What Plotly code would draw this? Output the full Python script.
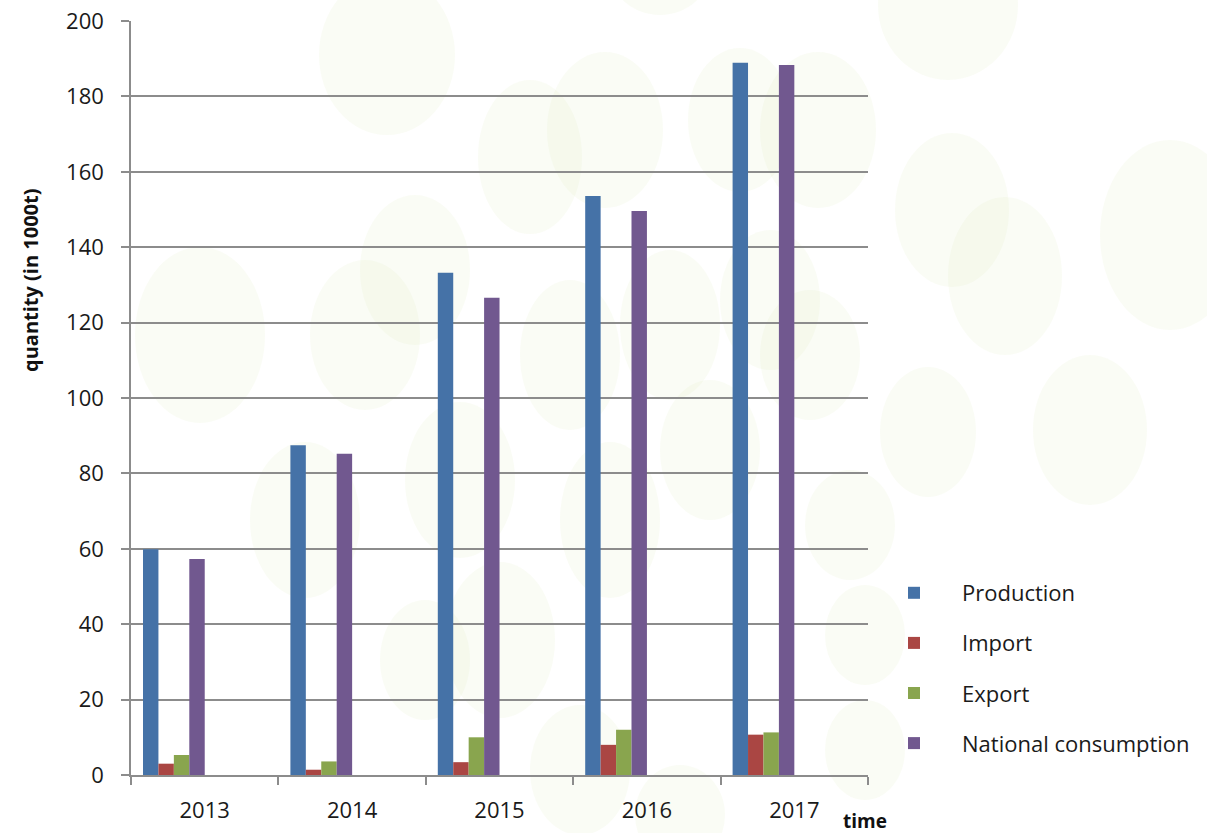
import plotly.graph_objects as go

# Quantities in 1000 t per year
years = ["2013", "2014", "2015", "2016", "2017"]
production = [59.9, 87.5, 133.2, 153.6, 188.9]
imports = [3.0, 1.4, 3.4, 8.0, 10.7]
exports = [5.3, 3.6, 10.0, 12.0, 11.3]
consumption = [57.3, 85.2, 126.6, 149.6, 188.3]

series_names = ["Production", "Import", "Export", "National consumption"]
series_values = [production, imports, exports, consumption]
series_colors = ["#4572A7", "#AA4643", "#89A54E", "#71588F"]

W, H = 1207, 833
ML, MR, MT, MB = 131, 339, 21, 58
PW, PH = W - ML - MR, H - MT - MB

# bars sit in the left part of each category slot
BAR_W = 0.1047
FIRST_OFFSET = -0.4186

fig = go.Figure()
for i, (name, vals, col) in enumerate(zip(series_names, series_values, series_colors)):
    fig.add_trace(go.Bar(
        x=years, y=vals, name=name, legendgroup=name,
        marker=dict(color=col, line=dict(width=0)),
        width=BAR_W, offset=FIRST_OFFSET + i * BAR_W,
    ))

# soft green background blobs (pixel centre x, centre y, radius x, radius y)
blobs = [
    (660, -30, 50, 45), (387, 55, 68, 80), (200, 335, 65, 88), (365, 335, 55, 75),
    (415, 270, 55, 75), (530, 157, 52, 77), (605, 130, 58, 78), (740, 120, 52, 72),
    (818, 130, 58, 78), (948, 5, 70, 75), (952, 210, 57, 77), (1005, 276, 57, 79),
    (1170, 235, 70, 95), (928, 432, 48, 65), (1090, 430, 57, 75), (305, 520, 55, 78),
    (460, 480, 55, 78), (500, 640, 55, 78), (570, 355, 50, 75), (610, 520, 50, 78),
    (670, 325, 50, 75), (710, 450, 50, 70), (770, 300, 50, 70), (810, 355, 50, 65),
    (850, 525, 45, 55), (865, 635, 40, 50), (865, 750, 40, 50), (425, 660, 45, 60),
    (580, 770, 50, 65), (680, 815, 45, 50),
]

def px_x(p):
    return (p - ML) / PW

def px_y(p):
    return (H - MB - p) / PH

shapes = []
for cx, cy, rx, ry in blobs:
    shapes.append(dict(
        type="circle", xref="paper", yref="paper", layer="below",
        x0=px_x(cx - rx), x1=px_x(cx + rx), y0=px_y(cy + ry), y1=px_y(cy - ry),
        fillcolor="rgba(228,238,200,0.18)", line=dict(width=0),
    ))

axis_grey = "#8c8c8c"
font_main = "Open Sans, Lato, sans-serif"

fig.update_layout(
    width=W, height=H,
    margin=dict(l=ML, r=MR, t=MT, b=MB, pad=0, autoexpand=False),
    paper_bgcolor="white", plot_bgcolor="rgba(0,0,0,0)",
    barmode="overlay",
    font=dict(family=font_main, size=22, color="#1a1a1a"),
    showlegend=True,
    legend=dict(
        xref="container", yref="container",
        x=866 / W, y=1 - 572 / H, xanchor="left", yanchor="top",
        bgcolor="rgba(0,0,0,0)", traceorder="grouped", tracegroupgap=18.5,
        itemwidth=86, font=dict(size=22, family=font_main, color="#1a1a1a"),
    ),
    shapes=shapes,
    xaxis=dict(
        type="category", range=[-0.5, 4.5], tickson="boundaries",
        ticks="outside", ticklen=8, tickcolor=axis_grey, tickwidth=1.5,
        showline=True, linecolor=axis_grey, linewidth=1.5, showgrid=False,
        ticklabelstandoff=15, zeroline=False, automargin=False,
    ),
    yaxis=dict(
        range=[0, 200], dtick=20, tick0=0,
        ticks="outside", ticklen=8, tickcolor=axis_grey, tickwidth=1.5,
        showline=True, linecolor=axis_grey, linewidth=1.5,
        showgrid=True, gridcolor=axis_grey, gridwidth=1.5,
        zeroline=False, ticklabelstandoff=13, automargin=False,
    ),
    annotations=[
        dict(text="<b>quantity (in 1000t)</b>", xref="paper", yref="paper",
             x=px_x(30), y=px_y(280), textangle=-90, showarrow=False,
             font=dict(size=20, family=font_main, color="#111111"),
             xanchor="center", yanchor="middle"),
        dict(text="<b>time</b>", xref="paper", yref="paper",
             x=px_x(865), y=px_y(821), showarrow=False,
             font=dict(size=19, family=font_main, color="#111111"),
             xanchor="center", yanchor="middle"),
    ],
)

fig.write_html("out.html")
